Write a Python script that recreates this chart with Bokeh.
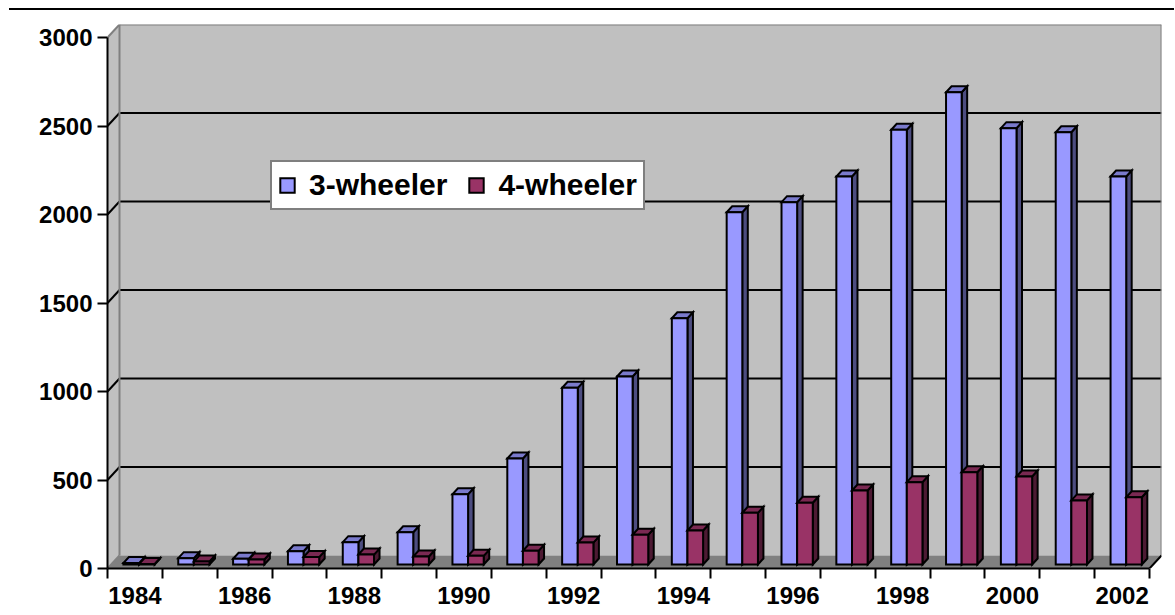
from bokeh.plotting import figure
from bokeh.models import Range1d, FixedTicker, Legend, LegendItem, ColumnDataSource
from bokeh.embed import file_html
from bokeh.resources import INLINE

# ---------------- data ----------------
years = list(range(1984, 2003))
three_wheeler = [8, 36, 32, 75, 126, 182, 397, 599, 998, 1062, 1391, 1990,
                 2047, 2192, 2456, 2668, 2465, 2442, 2192]
four_wheeler = [3, 17, 28, 42, 56, 45, 49, 77, 124, 168, 192, 292,
                349, 418, 465, 521, 497, 362, 380]
series_names = ["3-wheeler", "4-wheeler"]
y_ticks = [0, 500, 1000, 1500, 2000, 2500, 3000]
label_years = years[::2]

# ---------------- geometry / style ----------------
W_PX, H_PX = 1165, 604
B_LEFT, B_RIGHT, B_TOP, B_BOTTOM = 98, 13, 14, 46
frame_w = W_PX - B_LEFT - B_RIGHT
frame_h = H_PX - B_TOP - B_BOTTOM
WALL_DX_PX, WALL_DY_PX = 12, 13

N = len(years)
YMAX = y_ticks[-1]
xs = (frame_w - WALL_DX_PX) / N          # px per category
ys = (frame_h - WALL_DY_PX) / YMAX       # px per unit
DX = WALL_DX_PX / xs
DY = WALL_DY_PX / ys

BAR_OFF = 0.29
BAR_W = 0.285
BASE = 4 / ys
BDX = 5.5 / xs
BDY = 6 / ys

FONT = "Liberation Sans"
WALL = "#c0c0c0"
FLOOR = "#808080"
EDGE = "#808080"

colors = {
    "3-wheeler": ("#9999ff", "#7a7acc", "#4d4d80"),
    "4-wheeler": ("#993366", "#7a2952", "#4d1a33"),
}

p = figure(width=W_PX, height=H_PX, output_backend="svg", toolbar_location=None,
           x_range=Range1d(0, N + DX), y_range=Range1d(0, YMAX + DY),
           min_border_left=B_LEFT, min_border_right=B_RIGHT,
           min_border_top=B_TOP, min_border_bottom=B_BOTTOM)
p.margin = (8, 0, 0, 9)
p.styles = {"border-top": "2px solid black"}
p.background_fill_color = "white"
p.border_fill_color = "white"
p.outline_line_color = None
p.grid.visible = False

# walls and floor
p.quad(left=[DX], right=[N + DX], bottom=[DY], top=[YMAX + DY],
       fill_color=WALL, line_color=None)
p.patch([0, DX, DX, 0], [0, DY, YMAX + DY, YMAX], fill_color=WALL, line_color=None)
p.patch([0, DX, N + DX, N], [0, DY, DY, 0], fill_color=FLOOR, line_color=None)

# gridlines on back and side walls
gv = y_ticks[1:-1]
p.segment(x0=[DX] * len(gv), y0=[v + DY for v in gv],
          x1=[N + DX] * len(gv), y1=[v + DY for v in gv],
          line_color="black", line_width=2)
p.segment(x0=[0] * len(gv), y0=gv, x1=[DX] * len(gv), y1=[v + DY for v in gv],
          line_color="black", line_width=2)

# wall edges
p.segment(x0=[DX, DX, 0, N + DX, 0], y0=[DY, YMAX + DY, YMAX, DY, 0],
          x1=[DX, N + DX, DX, N + DX, DX], y1=[YMAX + DY, YMAX + DY, YMAX + DY, YMAX + DY, DY],
          line_color=EDGE, line_width=2)
p.segment(x0=[N], y0=[0], x1=[N + DX], y1=[DY], line_color="black", line_width=2)

# 3D bars
legend_items = []
for k, (name, vals) in enumerate(zip(series_names, [three_wheeler, four_wheeler])):
    front_c, top_c, side_c = colors[name]
    x0 = [i + BAR_OFF + k * BAR_W for i in range(N)]
    x1 = [a + BAR_W for a in x0]
    tops = [BASE + v for v in vals]
    src = ColumnDataSource(dict(left=x0, right=x1, bottom=[BASE] * N, top=tops))
    side_xs = [[b, b + BDX, b + BDX, b] for b in x1]
    side_ys = [[BASE, BASE + BDY, t + BDY, t] for t in tops]
    top_xs = [[a, b, b + BDX, a + BDX] for a, b in zip(x0, x1)]
    top_ys = [[t, t, t + BDY, t + BDY] for t in tops]
    p.patches(side_xs, side_ys, fill_color=side_c, line_color="black", line_width=2,
              line_join="miter")
    p.patches(top_xs, top_ys, fill_color=top_c, line_color="black", line_width=2,
              line_join="miter")
    r = p.quad(left="left", right="right", bottom="bottom", top="top", source=src,
               fill_color=front_c, line_color="black", line_width=2, line_join="miter")
    legend_items.append(LegendItem(label=name, renderers=[r]))

# axes
ya = p.yaxis[0]
ya.ticker = FixedTicker(ticks=y_ticks)
ya.bounds = (0, YMAX)
ya.major_tick_out = 10
ya.major_tick_in = 0
ya.minor_tick_out = 0
ya.minor_tick_in = 0
ya.axis_line_width = 2
ya.major_tick_line_width = 2
ya.major_label_standoff = 5
ya.major_label_text_font = FONT
ya.major_label_text_font_style = "bold"
ya.major_label_text_font_size = "24px"
ya.major_label_text_color = "black"

label_pos = [years.index(y) + 0.5 for y in label_years]
xa = p.xaxis[0]
xa.ticker = FixedTicker(ticks=label_pos, minor_ticks=list(range(N + 1)))
xa.major_label_overrides = {pos: str(y) for pos, y in zip(label_pos, label_years)}
xa.bounds = (0, N)
xa.major_tick_out = 0
xa.major_tick_in = 0
xa.minor_tick_out = 10
xa.minor_tick_in = 0
xa.minor_tick_line_width = 2
xa.minor_tick_line_color = "black"
xa.axis_line_width = 2
xa.major_label_standoff = 8
xa.major_label_text_font = FONT
xa.major_label_text_font_style = "bold"
xa.major_label_text_font_size = "24px"
xa.major_label_text_color = "black"

legend = Legend(items=legend_items, location=(163, 358), orientation="horizontal",
                label_text_font=FONT, label_text_font_style="bold",
                label_text_font_size="30px", label_text_color="black",
                border_line_color="black", border_line_width=2,
                background_fill_color="white", background_fill_alpha=1,
                glyph_width=18, glyph_height=18, padding=6, spacing=20,
                label_standoff=13, margin=0)
p.add_layout(legend)

open("out.html", "w").write(file_html(p, INLINE))
